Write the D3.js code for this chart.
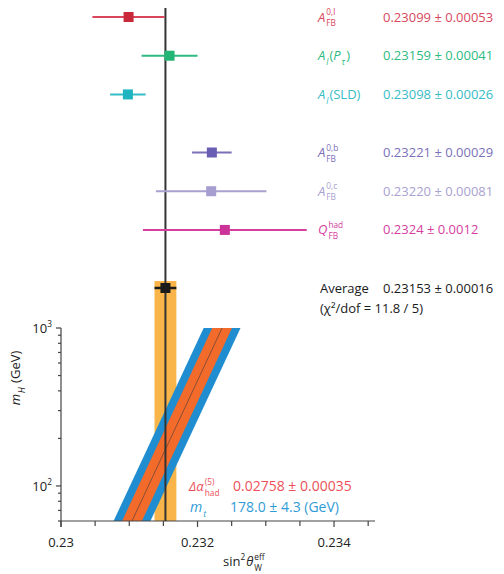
<!DOCTYPE html>
<html><head><meta charset="utf-8">
<script src="https://cdn.jsdelivr.net/npm/d3@7"></script>
<style>body{margin:0;background:#fff}svg{display:block}text{font-family:"Open Sans",sans-serif;white-space:pre}</style>
</head><body>
<svg id="c" width="504" height="574"></svg>
<script>
// ---------- data ----------
const measurements = ["A_FB^0,l","A_l(P_tau)","A_l(SLD)","A_FB^0,b","A_FB^0,c","Q_FB^had","Average"];
const groups      = [1,1,1,2,2,2,3];
const values      = [0.23099,0.23159,0.23098,0.23221,0.23220,0.2324,0.23153];
const errors      = [0.00053,0.00041,0.00026,0.00029,0.00081,0.0012,0.00016];
const valueLabels = ["0.23099 ± 0.00053","0.23159 ± 0.00041","0.23098 ± 0.00026","0.23221 ± 0.00029","0.23220 ± 0.00081","0.2324 ± 0.0012","0.23153 ± 0.00016"];
const markerColors= ["#c8283a","#22b573","#1fb5c0","#6a5eb4","#a69dd0","#cc3399","#1a1a1a"];
const textColors  = ["#d9475c","#2dbb80","#36bcc5","#7a70b9","#a9a1d1","#d6409f","#1a1a1a"];
const chiText = "(χ²/dof = 11.8 / 5)";
// SM prediction band vs Higgs mass
const bandMH      = [60, 1000];
const bandCenter  = [0.23104, 0.23236];
const mtHalf      = 0.00027;
const alphaHalf   = 0.000145;
const bandText    = ["0.02758 ± 0.00035","178.0 ± 4.3 (GeV)"];
// axes
const xTicksMajor = [0.230,0.232,0.234];
const xTickLabels = ["0.23","0.232","0.234"];
const xTicksMinor = [0.2305,0.231,0.2315,0.2325,0.233,0.2335,0.2345];
const yTicksMajor = [100,1000];
const yTicksMinor = [60,70,80,90,200,300,400,500,600,700,800,900];

// ---------- scales ----------
const svg = d3.select("#c");
const x = d3.scaleLinear().domain([0.23,0.2346]).range([61,375]);
const y = d3.scaleLog().domain([60,1000]).range([521,328]);
// row slot: groups separated by an extra half slot
const slots = groups.map((g,i)=> i + (g-1)*0.5);
const yRow = d3.scaleLinear().domain([0,7]).range([17,288]);

// ---------- rich text helper ----------
function rich(g, x0, y0, segs, color, size){
  let cx = x0;
  const small = size*0.64;
  segs.forEach(s=>{
    if (s.sub!==undefined || s.sup!==undefined){
      let w = 0;
      if (s.sub!==undefined){
        const t = g.append("text").attr("x",cx).attr("y",y0+size*0.36).attr("font-size",small).attr("fill",color)
          .attr("font-style",s.subI?"italic":"normal").text(s.sub);
        w = Math.max(w,t.node().getComputedTextLength());
      }
      if (s.sup!==undefined){
        const t = g.append("text").attr("x",cx).attr("y",y0-size*0.48).attr("font-size",small).attr("fill",color)
          .attr("font-style",s.supI?"italic":"normal").text(s.sup);
        w = Math.max(w,t.node().getComputedTextLength());
      }
      cx += w + 1;
    } else {
      const t = g.append("text").attr("x",cx).attr("y",y0).attr("font-size",size).attr("fill",color)
        .attr("font-style",s.i?"italic":"normal").text(s.t);
      if (s.f) t.attr("font-family",s.f);
      cx += t.node().getComputedTextLength() + (s.i?1:0);
    }
  });
  return cx - x0;
}

// ---------- lower panel bands ----------
const bandG = svg.append("g");
// average band (vertical)
const avg = values[6], avgErr = errors[6];
bandG.append("rect").attr("x",x(avg-avgErr)).attr("width",x(avg+avgErr)-x(avg-avgErr))
  .attr("y",281).attr("height",y(60)-281).attr("fill","#f9b54a");

const cLine = d3.scaleLinear().domain(bandMH.map(Math.log10)).range(bandCenter);
function poly(half){
  const lo = bandMH[0], hi = bandMH[1];
  return [[x(cLine(Math.log10(lo))-half),y(lo)],[x(cLine(Math.log10(hi))-half),y(hi)],
          [x(cLine(Math.log10(hi))+half),y(hi)],[x(cLine(Math.log10(lo))+half),y(lo)]];
}
bandG.append("polygon").attr("points",poly(mtHalf).join(" ")).attr("fill","#1f8dcf");
bandG.append("polygon").attr("points",poly(alphaHalf).join(" ")).attr("fill","#f26b2b");
bandG.append("line").attr("x1",x(bandCenter[0])).attr("y1",y(bandMH[0])).attr("x2",x(bandCenter[1])).attr("y2",y(bandMH[1]))
  .attr("stroke","#8b4d34").attr("stroke-width",1);

// ---------- axes ----------
const ax = svg.append("g").attr("stroke","#444").attr("stroke-width",1.2);
ax.append("line").attr("x1",61).attr("x2",375).attr("y1",y(60)).attr("y2",y(60));
ax.append("line").attr("x1",61).attr("x2",61).attr("y1",y(1000)).attr("y2",y(60)+6);
xTicksMajor.forEach(v=>ax.append("line").attr("x1",x(v)).attr("x2",x(v)).attr("y1",y(60)).attr("y2",y(60)+6));
xTicksMinor.forEach(v=>ax.append("line").attr("x1",x(v)).attr("x2",x(v)).attr("y1",y(60)).attr("y2",y(60)+5));
yTicksMajor.forEach(v=>ax.append("line").attr("x1",56).attr("x2",61).attr("y1",y(v)).attr("y2",y(v)));
yTicksMinor.forEach(v=>ax.append("line").attr("x1",58).attr("x2",61).attr("y1",y(v)).attr("y2",y(v)));
xTicksMajor.forEach((v,i)=>svg.append("text").attr("x",x(v)).attr("y",547).attr("text-anchor","middle")
  .attr("font-size",13).attr("fill","#222").text(xTickLabels[i]));
yTicksMajor.forEach(v=>{
  const g = svg.append("g");
  const w = rich(g,0,0,[{t:"10"},{sup:String(Math.round(Math.log10(v)))}],"#222",13);
  g.attr("transform",`translate(${53-w},${y(v)+5})`);
});
// x title
rich(svg.append("g"),223,566,[{t:"sin"},{sup:"2"},{t:"θ",i:true},{sub:"W",sup:"eff"}],"#222",13);
// y title
{
  const g = svg.append("g");
  const w = rich(g,0,0,[{t:"m",i:true},{sub:"H",subI:true},{t:" (GeV)"}],"#222",13);
  g.attr("transform",`translate(20,${378+w/2}) rotate(-90)`);
}

// ---------- measurements ----------
const ptsG = svg.append("g");
// average black vertical line
ptsG.append("line").attr("x1",x(avg)).attr("x2",x(avg)).attr("y1",8).attr("y2",y(60)).attr("stroke","#333").attr("stroke-width",2);
values.forEach((v,i)=>{
  const yy = yRow(slots[i]);
  ptsG.append("line").attr("x1",x(v-errors[i])).attr("x2",x(v+errors[i])).attr("y1",yy).attr("y2",yy)
    .attr("stroke",i===6?"#1a1a1a":textColors[i]).attr("stroke-width",i===6?2.5:2);
  ptsG.append("rect").attr("x",x(v)-5).attr("y",yy-5).attr("width",10).attr("height",10).attr("fill",markerColors[i]);
});

// ---------- right-hand labels ----------
const labSegs = [
  [{t:"A",i:true},{sub:"FB",sup:"0,l",supI:false}],
  [{t:"A",i:true},{sub:"l",subI:true},{t:"("},{t:"P",i:true},{sub:"τ",subI:true},{t:")"}],
  [{t:"A",i:true},{sub:"l",subI:true},{t:"(SLD)"}],
  [{t:"A",i:true},{sub:"FB",sup:"0,b"}],
  [{t:"A",i:true},{sub:"FB",sup:"0,c"}],
  [{t:"Q",i:true},{sub:"FB",sup:"had"}],
  [{t:"Average"}]
];
const labG = svg.append("g");
values.forEach((v,i)=>{
  const yy = yRow(slots[i]) + 4.5;
  rich(labG,i===6?320:318,yy,labSegs[i],textColors[i],13);
  labG.append("text").attr("x",383).attr("y",yy).attr("font-size",13).attr("fill",textColors[i]).text(valueLabels[i]);
});
labG.append("text").attr("x",320).attr("y",313).attr("font-size",13).attr("fill","#1a1a1a").text(chiText);

// band legend
rich(svg.append("g"),189,491,[{t:"Δα",i:true,f:"DejaVu Sans"},{sub:"had",sup:"(5)"}],"#ee4f5a",13);
svg.append("text").attr("x",233).attr("y",491).attr("font-size",14).attr("fill","#ee4f5a").text(bandText[0]);
rich(svg.append("g"),190,512,[{t:"m",i:true},{sub:"t",subI:true}],"#2f9bd6",14);
svg.append("text").attr("x",230).attr("y",512).attr("font-size",14).attr("fill","#2f9bd6").text(bandText[1]);
</script>
</body></html>
